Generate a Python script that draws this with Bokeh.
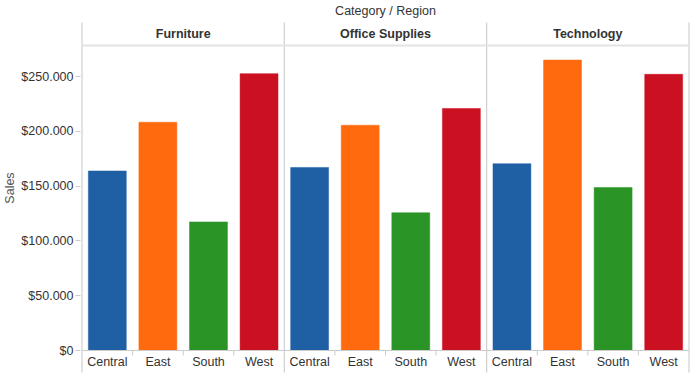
from bokeh.plotting import figure
from bokeh.models import FactorRange, ColumnDataSource, FixedTicker, Range1d
from bokeh.core.properties import value
from bokeh.embed import file_html
from bokeh.resources import INLINE

categories = ["Furniture", "Office Supplies", "Technology"]
regions = ["Central", "East", "South", "West"]
furniture_sales = [163797, 208291, 117299, 252613]
office_sales = [167026, 205516, 125651, 220853]
technology_sales = [170416, 264974, 148772, 251992]
region_colors = ["#1F60A5", "#FF6A0F", "#2B9426", "#CB1021"]
y_ticks = [0, 50000, 100000, 150000, 200000, 250000]
y_tick_labels = ["$0", "$50.000", "$100.000", "$150.000", "$200.000", "$250.000"]

FONT = value("Liberation Sans")
W, H = 691, 375
# pixel layout helper (figure pixel row -> data value)
px_per_unit = 274 / 250000.0
zero_row = 350


def ydata(row):
    return (zero_row - row) / px_per_unit


series = [furniture_sales, office_sales, technology_sales]
factors = [(c, r) for c in categories for r in regions]
tops = [v for s in series for v in s]
colors = [region_colors[i] for _ in categories for i in range(len(regions))]
src = ColumnDataSource(dict(x=factors, top=tops, color=colors))

n = len(regions)
total = n * len(categories)

x_range = FactorRange(factors=factors, group_padding=0, factor_padding=0,
                      subgroup_padding=0, range_padding=0.03,
                      range_padding_units="absolute")
y_range = Range1d(ydata(H), ydata(0))

p = figure(width=W, height=H, x_range=x_range, y_range=y_range,
           output_backend="svg", toolbar_location=None, x_axis_location=None,
           min_border_top=0, min_border_bottom=0, min_border_right=1,
           min_border_left=0)
p.outline_line_color = None
p.xgrid.visible = False
p.ygrid.visible = False
p.background_fill_color = "white"

yax = p.yaxis[0]
yax.ticker = FixedTicker(ticks=y_ticks)
yax.major_label_overrides = {t: l for t, l in zip(y_ticks, y_tick_labels)}
yax.axis_line_color = None
yax.major_tick_in = 0
yax.major_tick_out = 5
yax.major_tick_line_color = "#cccccc"
yax.minor_tick_line_color = None
yax.major_label_standoff = 2
yax.major_label_text_font = "Liberation Sans"
yax.major_label_text_font_size = "12.5px"
yax.major_label_text_color = "#333333"
yax.axis_label = "Sales"
yax.axis_label_text_font = "Liberation Sans"
yax.axis_label_text_font_size = "12.5px"
yax.axis_label_text_font_style = "normal"
yax.axis_label_text_color = "#555555"
yax.axis_label_standoff = 1

# bars
p.vbar(x="x", top="top", width=0.75, bottom=0, source=src,
       fill_color="color", line_color="color", line_width=0.5)

# panel separators
sep_x = [i * n for i in range(len(categories) + 1)]
p.segment(x0=sep_x, x1=sep_x, y0=[ydata(22)] * len(sep_x),
          y1=[ydata(372)] * len(sep_x), line_color="#d0d0d0", line_width=1.2)
# header bottom line
p.segment(x0=[0], x1=[total], y0=[ydata(45)], y1=[ydata(45)],
          line_color="#e3e3e3", line_width=2)
# x axis baseline
p.segment(x0=[0], x1=[total], y0=[0], y1=[0], line_color="#cccccc", line_width=1)
# small ticks between regions
inner = [j for j in range(total) if j % n != 0]
p.segment(x0=inner, x1=inner, y0=[0] * len(inner), y1=[ydata(355)] * len(inner),
          line_color="#cccccc", line_width=1)

# header texts
head_x = [i * n + n / 2 for i in range(len(categories))]
p.text(x=head_x, y=[ydata(33.5)] * len(categories), text=categories,
       text_font=FONT, text_font_size="12.5px", text_font_style="bold",
       text_color="#333333", text_align="center", text_baseline="middle")

# column title
p.text(x=[total / 2], y=[ydata(10.5)], text=["Category / Region"],
       text_font=FONT, text_font_size="12.5px", text_color="#333333",
       text_align="center", text_baseline="middle")

# region labels
p.text(x=factors, y=[ydata(361.5)] * len(factors), text=[f[1] for f in factors],
       text_font=FONT, text_font_size="12.5px", text_color="#333333",
       text_align="center", text_baseline="middle")

open("out.html", "w").write(file_html(p, INLINE))
